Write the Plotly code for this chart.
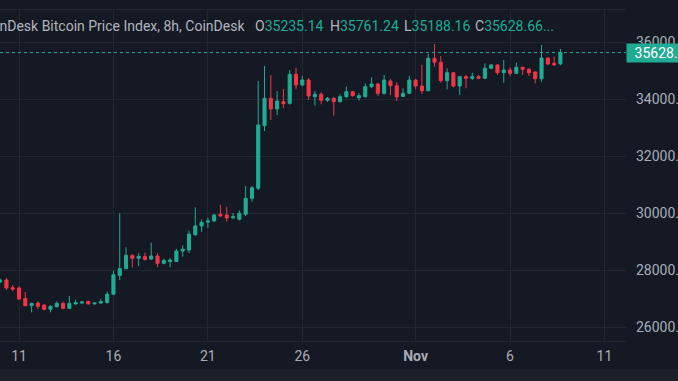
import plotly.graph_objects as go
import pandas as pd

# ---- data (8h candles, CoinDesk Bitcoin Price Index) ----
times = pd.date_range("2023-10-10 00:00", periods=90, freq="8h")

opens = [27580, 27650, 27380, 27370, 27000, 26750, 26840, 26770, 26620, 26710,
         26830, 26655, 26810, 26840, 26900, 26810, 26840, 26860, 27150, 27810,
         28046, 28516, 28410, 28470, 28385, 28490, 28235, 28300, 28300, 28665,
         28700, 29240, 29545, 29680, 29720, 29960, 29930, 29830, 29780, 29955,
         30516, 30867, 33064, 34025, 33650, 33906, 33850, 34867, 34492, 34667,
         34080, 34165, 33955, 34025, 33906, 34081, 34256, 34046, 34081, 34432,
         34527, 34200, 34632, 34467, 34090, 34200, 34667, 34456, 34291, 35428,
         35288, 34642, 34923, 34456, 34783, 34727, 34783, 34727, 35078, 35194,
         34923, 35018, 34900, 35113, 35043, 34948, 34713, 35439, 35250, 35235.14]
highs = [27700, 27720, 27470, 27430, 27230, 26850, 26900, 26800, 26760, 26900,
         26890, 27090, 26960, 26900, 26920, 26870, 26990, 27240, 27975, 29990,
         28797, 28540, 28590, 28610, 28960, 28590, 28400, 28420, 28740, 28865,
         29380, 30200, 29770, 29840, 29960, 30290, 30220, 30000, 30090, 30948,
         30948, 34632, 35158, 34843, 34280, 34350, 35018, 35100, 34820, 34737,
         34281, 34235, 34070, 34070, 34165, 34432, 34280, 34200, 34551, 34762,
         34560, 34843, 34700, 34586, 34375, 34818, 34700, 35193, 35580, 35930,
         35510, 35078, 34950, 34800, 34843, 34923, 34843, 35253, 35230, 35220,
         35369, 35113, 35274, 35134, 35078, 34970, 35895, 35460, 35485, 35761.24]
lows = [27540, 27300, 27260, 26960, 26725, 26515, 26630, 26580, 26515, 26690,
        26620, 26630, 26790, 26820, 26790, 26780, 26820, 26820, 27120, 27650,
        28030, 28095, 28140, 28330, 28360, 28100, 28200, 28100, 28280, 28470,
        28590, 29200, 29340, 29475, 29700, 29860, 29700, 29800, 29740, 29895,
        30397, 30807, 32878, 33264, 33440, 33675, 33800, 34340, 34450, 33965,
        33772, 33815, 33900, 33415, 33880, 34040, 34080, 33950, 34050, 34400,
        34100, 34150, 34130, 33930, 34070, 34180, 34350, 34176, 34270, 35134,
        34572, 34341, 34411, 34141, 34376, 34667, 34692, 34700, 35050, 34843,
        34572, 34808, 34880, 34843, 34808, 34551, 34607, 35194, 35158, 35188.16]
closes = [27650, 27370, 27330, 26980, 26750, 26830, 26725, 26620, 26725, 26830,
          26655, 26830, 26850, 26880, 26810, 26840, 26890, 27150, 27835, 28050,
          28516, 28410, 28480, 28375, 28490, 28235, 28330, 28350, 28665, 28730,
          29260, 29545, 29675, 29720, 29930, 29900, 29825, 29870, 29990, 30516,
          30887, 33088, 34025, 33650, 33930, 33835, 34867, 34492, 34667, 34106,
          34165, 33955, 34025, 33906, 34081, 34256, 34116, 34116, 34432, 34527,
          34200, 34667, 34467, 34070, 34200, 34667, 34456, 34291, 35428, 35288,
          34642, 34923, 34456, 34783, 34727, 34783, 34727, 35078, 35194, 34923,
          35018, 34900, 35113, 35043, 34923, 34713, 35439, 35228, 35205, 35628.66]

y_ticks = [26000, 28000, 30000, 32000, 34000, 36000]
y_tick_labels = ["26000.00", "28000.00", "30000.00", "32000.00", "34000.00", "36000.00"]
x_ticks = ["2023-10-11", "2023-10-16", "2023-10-21", "2023-10-26",
           "2023-11-01", "2023-11-06", "2023-11-11"]
x_tick_labels = ["11", "16", "21", "26", "<b>Nov</b>", "6", "11"]

title_text = "CoinDesk Bitcoin Price Index, 8h, CoinDesk"
ohlc_labels = ["O", "H", "L", "C"]
ohlc_values = ["35235.14", "35761.24", "35188.16", "35628.66..."]

# ---- styling ----
UP = "#22ab94"
DOWN = "#f23645"
BG = "#151924"
GRID = "#222631"
TEXT = "#a9acb5"
FONT = "Roboto"

W, H = 678, 381
ML, MR, MT, MB = 0, 52, 10, 40
PW = W - ML - MR
PH = H - MT - MB


def px_x(px):
    return (px - ML) / PW


def px_y(py):
    return (H - MB - py) / PH


fig = go.Figure(go.Candlestick(
    x=times, open=opens, high=highs, low=lows, close=closes,
    increasing=dict(line=dict(color=UP, width=1), fillcolor=UP),
    decreasing=dict(line=dict(color=DOWN, width=1), fillcolor=DOWN),
    whiskerwidth=0, hoverinfo="skip", showlegend=False,
))

annotations = []
# header: symbol title (left part cut off by the frame)
annotations.append(dict(
    xref="paper", yref="paper", x=px_x(246), y=px_y(26),
    xanchor="right", yanchor="middle", showarrow=False,
    text=title_text, font=dict(family=FONT, size=14, color="#b2b5be"),
    borderpad=0,
))
ohlc_x = [254, 329, 403, 474]
for lab, val, xp in zip(ohlc_labels, ohlc_values, ohlc_x):
    annotations.append(dict(
        xref="paper", yref="paper", x=px_x(xp), y=px_y(26),
        xanchor="left", yanchor="middle", showarrow=False,
        text=f"{lab}<span style='color:{UP}'>{val}</span>",
        font=dict(family=FONT, size=14, color="#b2b5be"), borderpad=0,
    ))
# last-price label on the price scale
annotations.append(dict(
    xref="paper", yref="y", x=1, y=closes[-1],
    xanchor="left", yanchor="middle", showarrow=False,
    text=f"{closes[-1]:.2f}", font=dict(family=FONT, size=14, color="#ffffff"),
    bgcolor=UP, width=74, height=18, align="center", borderpad=0,
))

shapes = [
    dict(type="line", xref="paper", yref="y", x0=0, x1=1,
         y0=closes[-1], y1=closes[-1],
         line=dict(color=UP, width=1, dash="dot"), layer="above"),
    dict(type="rect", xref="paper", yref="paper",
         x0=-0.01, x1=1.2, y0=px_y(369), y1=px_y(382),
         fillcolor="#1c2029", line=dict(width=0), layer="above"),
]

fig.update_layout(
    width=W, height=H,
    margin=dict(l=ML, r=MR, t=MT, b=MB, pad=0, autoexpand=False),
    paper_bgcolor=BG, plot_bgcolor=BG,
    font=dict(family=FONT, size=14, color=TEXT),
    annotations=annotations, shapes=shapes,
    xaxis=dict(
        type="date", automargin=False,
        range=["2023-10-09 23:51", "2023-11-12 03:20"],
        tickvals=x_ticks, ticktext=x_tick_labels,
        tickfont=dict(family=FONT, size=14, color=TEXT),
        showgrid=True, gridcolor=GRID, gridwidth=1,
        showline=True, mirror=True, linecolor=GRID, linewidth=1,
        ticks="", zeroline=False, ticklabelstandoff=2,
        rangeslider=dict(visible=False), fixedrange=True,
    ),
    yaxis=dict(
        side="right", automargin=False,
        range=[25509, 37123],
        tickvals=y_ticks, ticktext=y_tick_labels,
        tickfont=dict(family=FONT, size=14, color=TEXT),
        showgrid=True, gridcolor=GRID, gridwidth=1,
        showline=False, ticks="", zeroline=False,
        ticklabelstandoff=9, fixedrange=True,
    ),
)

fig.write_html(
    "out.html",
    config={"displayModeBar": False},
    post_script="document.body.style.margin='0';document.body.style.background='%s';" % BG,
)
